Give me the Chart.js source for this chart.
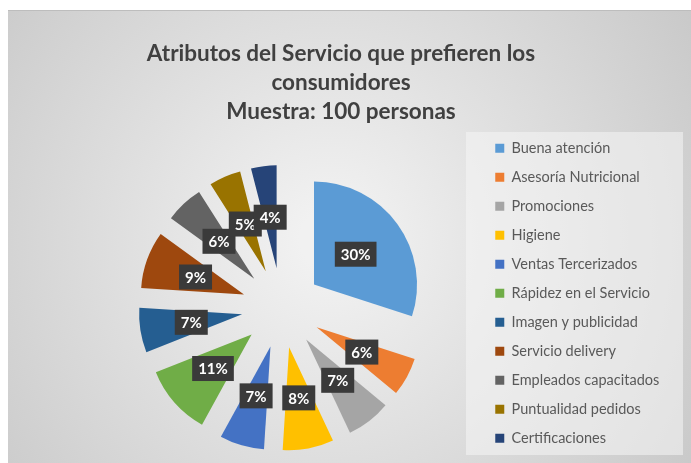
<!DOCTYPE html>
<html>
<head>
<meta charset="utf-8">
<style>
  html, body { margin: 0; padding: 0; background: #fff; }
  canvas { display: block; }
</style>
</head>
<body>
<canvas id="atributosChart" width="691" height="463"></canvas>

<script src="https://cdn.jsdelivr.net/npm/chart.js"></script>

<script>
  const categorias = [
      'Buena atención',
      'Asesoría Nutricional',
      'Promociones',
      'Higiene',
      'Ventas Tercerizados',
      'Rápidez en el Servicio',
      'Imagen y publicidad',
      'Servicio delivery',
      'Empleados capacitados',
      'Puntualidad pedidos',
      'Certificaciones',
  ];
  const porcentajes = [30, 6, 7, 8, 7, 11, 7, 9, 6, 5, 4];
  const colores = [
      '#5b9bd5', '#ed7d31', '#a5a5a5', '#ffc000', '#4472c4', '#70ad47',
      '#255e91', '#9e480e', '#636363', '#997300', '#264478',
  ];
  const titulo = ['Atributos del Servicio que prefieren los', 'consumidores', 'Muestra: 100 personas'];

  const SEPARACION = 40;   // distance each slice is pulled out from the centre

  // grey gradient frame + lighter legend panel
  const fondo = {
      id: 'fondo',
      beforeDraw(chart) {
          const ctx = chart.ctx;
          ctx.save();
          ctx.fillStyle = '#ffffff';
          ctx.fillRect(0, 0, chart.width, chart.height);
          const g = ctx.createRadialGradient(330, 240, 30, 330, 240, 440);
          g.addColorStop(0, '#f1f1f1');
          g.addColorStop(1, '#c8c8c8');
          ctx.fillStyle = g;
          ctx.fillRect(8, 10, chart.width - 8, chart.height - 10);
          ctx.fillStyle = '#bdbdbd';
          ctx.fillRect(8, 10, chart.width - 8, 1);
          ctx.fillStyle = 'rgba(245, 245, 245, 0.55)';
          ctx.fillRect(466, 132, 217, 323);
          ctx.restore();
      }
  };

  // exploded pie: move every arc out along its own bisector
  const separar = {
      id: 'separar',
      afterDatasetUpdate(chart, args) {
          args.meta.data.forEach(function (arc) {
              const mid = (arc.startAngle + arc.endAngle) / 2;
              arc.x += Math.cos(mid) * SEPARACION;
              arc.y += Math.sin(mid) * SEPARACION;
          });
      }
  };

  // dark boxes with the percentage in the middle of each slice
  const etiquetas = {
      id: 'etiquetas',
      afterDatasetsDraw(chart) {
          const ctx = chart.ctx;
          const meta = chart.getDatasetMeta(0);
          ctx.save();
          ctx.font = 'bold 15px Lato';
          ctx.textAlign = 'center';
          ctx.textBaseline = 'middle';
          meta.data.forEach(function (arc, i) {
              const mid = (arc.startAngle + arc.endAngle) / 2;
              const d = arc.outerRadius * 0.5;
              const x = arc.x + Math.cos(mid) * d;
              const y = arc.y + Math.sin(mid) * d;
              const txt = porcentajes[i] + '%';
              const w = ctx.measureText(txt).width + 12;
              const h = 25;
              ctx.fillStyle = '#3a3a3a';
              ctx.fillRect(x - w / 2, y - h / 2, w, h);
              ctx.fillStyle = '#ffffff';
              ctx.fillText(txt, x, y + 1);
          });
          ctx.restore();
      }
  };

  // title centred on the whole frame; pie sits a bit lower than the legend top
  const ajustes = {
      id: 'ajustes',
      afterLayout(chart) {
          const t = chart.titleBlock;
          const dx = 341 - (t.left + t.right) / 2;
          t.left += dx;
          t.right += dx;
          const area = chart.chartArea;
          area.top += 26.5;
          area.height -= 26.5;
      }
  };

  const ctx = document.getElementById('atributosChart');
  const atributosChart = new Chart(ctx, {
      type: 'pie',
      plugins: [fondo, separar, etiquetas, ajustes],
      data: {
          labels: categorias,
          datasets: [{
              data: porcentajes,
              backgroundColor: colores,
              borderWidth: 0,
          }]
      },
      options: {
          responsive: false,
          animation: false,
          events: [],
          radius: 103,
          layout: {
              padding: { left: 82.5, right: 21.75, top: 10, bottom: 0 }
          },
          plugins: {
              title: {
                  display: true,
                  text: titulo,
                  color: '#404040',
                  font: { family: 'Lato', size: 22.5, weight: 'bold', lineHeight: 29 / 22.5 },
                  padding: { top: 29.5, bottom: 0 },
              },
              legend: {
                  position: 'right',
                  align: 'start',
                  fullSize: false,
                  labels: {
                      boxWidth: 9,
                      boxHeight: 9,
                      padding: 14.5,
                      color: '#595959',
                      font: { family: 'Lato', size: 14.5 },
                  },
              },
              tooltip: { enabled: false },
          }
      }
  });
</script>
</body>
</html>
